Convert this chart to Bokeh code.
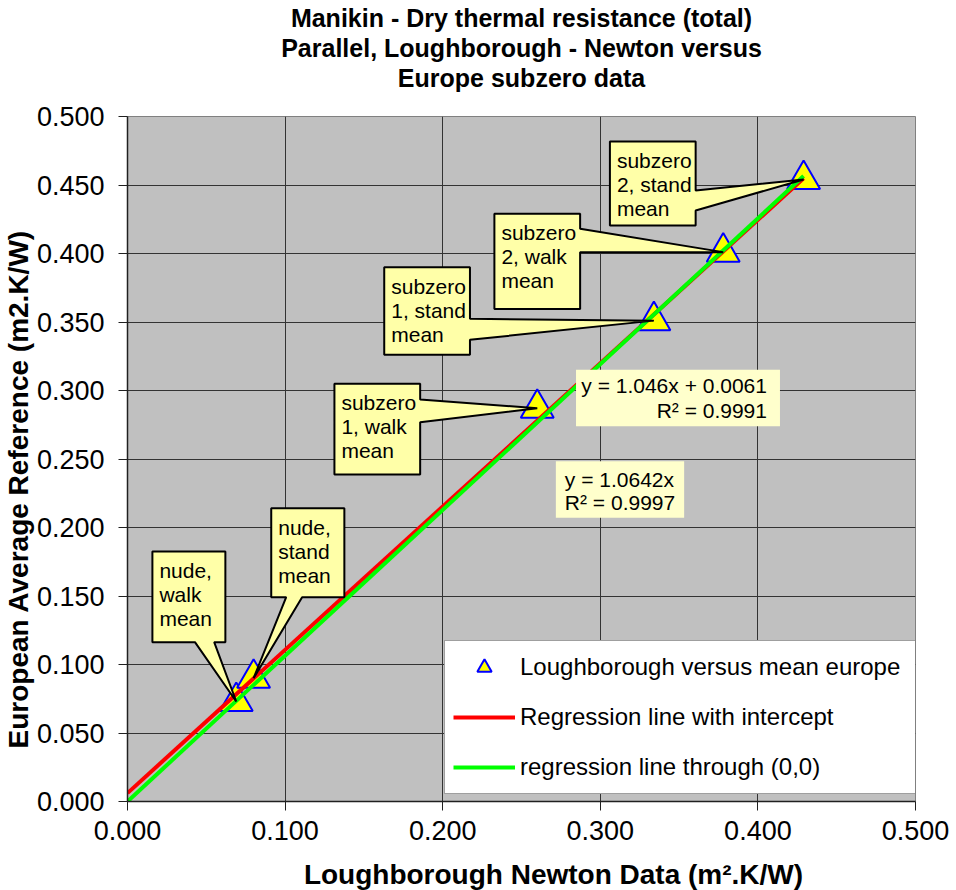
import math
from bokeh.plotting import figure
from bokeh.models import (Range1d, FixedTicker, NumeralTickFormatter, Label, BoxAnnotation,
                          PolyAnnotation, Legend, LegendItem, Title)
from bokeh.embed import file_html
from bokeh.resources import INLINE

# ---------------- data ----------------
lough_x = [0.069, 0.080, 0.260, 0.334, 0.378, 0.429]
europe_y = [0.073, 0.090, 0.287, 0.351, 0.401, 0.454]
point_labels = [["nude,", "walk", "mean"],
                ["nude,", "stand", "mean"],
                ["subzero", "1, walk", "mean"],
                ["subzero", "1, stand", "mean"],
                ["subzero", "2, walk", "mean"],
                ["subzero", "2, stand", "mean"]]

slope_int = 1.046
intercept = 0.0061
r2_int = 0.9991
slope_zero = 1.0642
r2_zero = 0.9997

xtick_values = [0.0, 0.1, 0.2, 0.3, 0.4, 0.5]
ytick_values = [0.0, 0.05, 0.1, 0.15, 0.2, 0.25, 0.3, 0.35, 0.4, 0.45, 0.5]

title_lines = ["Manikin - Dry thermal resistance (total)",
               "Parallel, Loughborough - Newton versus",
               "Europe subzero data"]
x_title = "Loughborough Newton Data (m\u00b2.K/W)"
y_title = "European Average Reference (m2.K/W)"
legend_labels = ["Loughborough versus mean europe",
                 "Regression line with intercept",
                 "regression line through (0,0)"]

# ---------------- layout of callouts (data units) ----------------
# box: left, right, bottom, top ; side of pointer ; pointer base (two values)
callout_boxes = [
    (0.0158, 0.0621, 0.1163, 0.1825, "bottom", (0.0428, 0.0550)),
    (0.0912, 0.1376, 0.1491, 0.2141, "bottom", (0.1007, 0.1108)),
    (0.1313, 0.1857, 0.2387, 0.3049, "right", (0.2934, 0.2769)),
    (0.1629, 0.2173, 0.3261, 0.3900, "right", (0.3523, 0.3370)),
    (0.2328, 0.2872, 0.3595, 0.4290, "right", (0.4180, 0.4009)),
    (0.3061, 0.3605, 0.4204, 0.4818, "right", (0.4460, 0.4314)),
]
eq_box_int = (0.2846, 0.4140, 0.2739, 0.3151)
eq_box_zero = (0.2718, 0.3532, 0.2071, 0.2484)

FONT = "Liberation Sans"

p = figure(width=956, height=890, output_backend="svg", toolbar_location=None,
           x_range=Range1d(0, 0.5), y_range=Range1d(0, 0.5),
           min_border_left=124, min_border_right=41, min_border_top=116, min_border_bottom=89)
p.title = None
p.background_fill_color = "#C0C0C0"
p.border_fill_color = "white"
p.outline_line_color = "#808080"
p.outline_line_width = 1

for ax, ticks in ((p.xaxis, xtick_values), (p.yaxis, ytick_values)):
    ax.ticker = FixedTicker(ticks=ticks)
    ax.formatter = NumeralTickFormatter(format="0.000")
    ax.major_label_text_font = FONT
    ax.major_label_text_font_size = "27px"
    ax.major_label_text_color = "black"
    ax.axis_line_color = "#202020"
    ax.axis_line_width = 1.5
    ax.major_tick_line_color = "#202020"
    ax.major_tick_in = 0
    ax.major_tick_out = 9
    ax.minor_tick_line_color = None
p.yaxis.major_label_standoff = 14
p.xaxis.major_label_standoff = 10

p.xgrid.ticker = FixedTicker(ticks=xtick_values)
p.ygrid.ticker = FixedTicker(ticks=ytick_values)
p.grid.grid_line_color = "#333333"
p.grid.grid_line_width = 1

# scatter points
sc = p.scatter(lough_x, europe_y, marker="triangle", size=33, fill_color="#FFFF00",
               line_color="#0000FF", line_width=2)

# regression lines
x_end = [0.0, max(lough_x)]
red = p.line(x_end, [slope_int * v + intercept for v in x_end], line_color="#FF0000", line_width=4)
green = p.line(x_end, [slope_zero * v for v in x_end], line_color="#00FF00", line_width=4)

# callouts
for (l, r, b, t, side, base), px, py, lines in zip(callout_boxes, lough_x, europe_y, point_labels):
    if side == "right":
        xs = [l, r, r, px, r, r, l]
        ys = [t, t, base[0], py, base[1], b, b]
    else:
        xs = [l, r, r, base[1], px, base[0], l]
        ys = [t, t, b, b, py, b, b]
    p.add_layout(PolyAnnotation(xs=xs, ys=ys, fill_color="#FFFFA8", fill_alpha=1,
                                line_color="black", line_alpha=1, line_width=2))
    for i, txt in enumerate(lines):
        p.add_layout(Label(x=l, y=t, x_offset=7, y_offset=-(19 + 24 * i), text=txt,
                           text_font=FONT, text_font_size="21px", text_color="black",
                           text_baseline="middle", text_align="left"))

# equation boxes
l, r, b, t = eq_box_int
p.add_layout(BoxAnnotation(left=l, right=r, bottom=b, top=t, fill_color="#FFFFCC",
                           fill_alpha=1, line_color=None))
for i, txt in enumerate([f"y = {slope_int}x + {intercept}", f"R\u00b2 = {r2_int}"]):
    p.add_layout(Label(x=r, y=t, x_offset=-13, y_offset=-(16 + 25 * i), text=txt,
                       text_font=FONT, text_font_size="21px", text_color="black",
                       text_baseline="middle", text_align="right"))
l, r, b, t = eq_box_zero
p.add_layout(BoxAnnotation(left=l, right=r, bottom=b, top=t, fill_color="#FFFFCC",
                           fill_alpha=1, line_color=None))
for i, txt in enumerate([f"y = {slope_zero}x", f"R\u00b2 = {r2_zero}"]):
    p.add_layout(Label(x=l, y=t, x_offset=9, y_offset=-(18 + 23 * i), text=txt,
                       text_font=FONT, text_font_size="21px", text_color="black",
                       text_baseline="middle", text_align="left"))

# legend
legend = Legend(items=[LegendItem(label=legend_labels[0], renderers=[sc]),
                       LegendItem(label=legend_labels[1], renderers=[red]),
                       LegendItem(label=legend_labels[2], renderers=[green])],
                location=(317, 7), orientation="vertical",
                label_text_font=FONT, label_text_font_size="24px", label_text_color="black",
                glyph_width=62, glyph_height=36, label_height=36, label_width=400,
                label_standoff=5, spacing=14, padding=8, margin=0,
                border_line_color="#404040", border_line_width=1,
                background_fill_color="white", background_fill_alpha=1)
p.add_layout(legend)

# spacer between frame and title block
p.add_layout(Title(text=" ", text_font=FONT, text_font_size="1px", standoff=22), "above")
# title lines above (last added is farthest from the frame)
for txt in reversed(title_lines):
    p.add_layout(Title(text=txt, align="center", text_font=FONT,
                       text_font_size="25px", text_font_style="bold", text_color="black",
                       text_line_height=1.0, standoff=0), "above")

# axis titles
p.add_layout(Label(x=426, y=-1, x_units="screen", y_units="screen", text=x_title,
                   text_font=FONT, text_font_size="28px", text_font_style="bold",
                   text_color="black", text_align="center", text_baseline="middle"), "below")
p.add_layout(Title(text=y_title, align="left", offset=53, text_font=FONT,
                   text_font_size="28px", text_font_style="bold", text_color="black",
                   standoff=0), "left")

open("out.html", "w").write(file_html(p, INLINE))
